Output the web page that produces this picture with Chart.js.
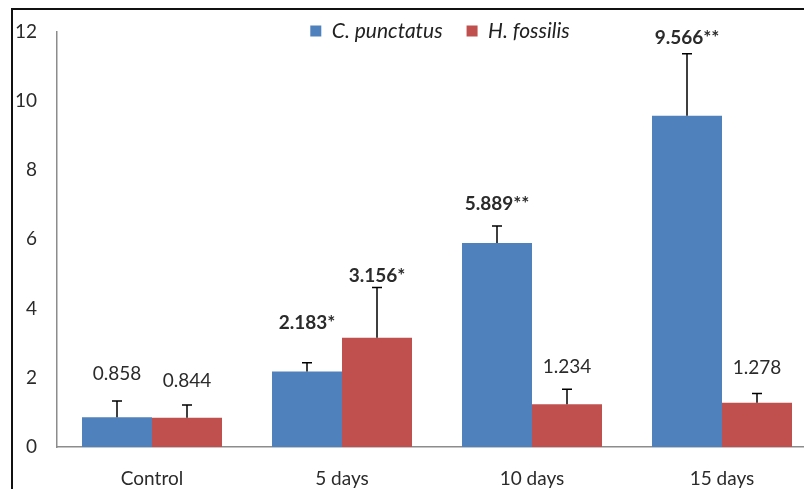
<!DOCTYPE html>
<html>
<head>
<meta charset="utf-8">
<script src="https://cdn.jsdelivr.net/npm/chart.js@4/dist/chart.umd.min.js"></script>
<style>
  html, body { margin: 0; padding: 0; background: #fff; overflow: hidden; width: 804px; height: 489px; }
  #frame { position: absolute; left: 11px; top: 8px; width: 900px; height: 600px; border-left: 2px solid #111; border-top: 2px solid #111; }
  #wrap { position: absolute; left: 0; top: 0; width: 830px; height: 489px; }
</style>
</head>
<body>
<div id="frame"></div>
<div id="wrap"><canvas id="c" width="830" height="489"></canvas></div>
<script>
// ---- data ----
const categories = ["Control", "5 days", "10 days", "15 days"];
const seriesNames = ["C. punctatus", "H. fossilis"];
const cPunctatus = [0.858, 2.183, 5.889, 9.566];
const hFossilis = [0.844, 3.156, 1.234, 1.278];
const cPunctatusErr = [0.47, 0.25, 0.49, 1.79];
const hFossilisErr = [0.37, 1.45, 0.43, 0.27];
const cPunctatusLabels = ["0.858", "2.183*", "5.889**", "9.566**"];
const hFossilisLabels = ["0.844", "3.156*", "1.234", "1.278"];
const yTicks = [0, 2, 4, 6, 8, 10, 12];

// ---- presentation ----
const FONT = "Lato, 'Open Sans', sans-serif";
const LEGEND_SIZE = 21;
const LEGEND_PAD = 24;
const labelGaps = [[27, 40, 22, 16], [24, 12, 22, 26]]; // px above error cap
const errors = [cPunctatusErr, hFossilisErr];
const labels = [cPunctatusLabels, hFossilisLabels];

const errorBarPlugin = {
  id: 'errorBars',
  afterLayout(chart) {
    const lg = chart.legend;
    if (lg) {
      lg.top = 31 - LEGEND_PAD - LEGEND_SIZE / 2;
      lg.height = 60;
      lg.bottom = lg.top + 60;
      lg.left = chart.chartArea.left + 3;
      lg.right = chart.chartArea.right + 3;
      lg.width = lg.right - lg.left;
    }
  },
  afterDatasetsDraw(chart) {
    const ctx = chart.ctx;
    const yScale = chart.scales.y;
    chart.data.datasets.forEach((ds, di) => {
      const meta = chart.getDatasetMeta(di);
      meta.data.forEach((bar, i) => {
        const v = ds.data[i];
        const yTop = yScale.getPixelForValue(v + errors[di][i]);
        ctx.save();
        ctx.strokeStyle = '#000';
        ctx.lineWidth = 1.5;
        ctx.beginPath();
        ctx.moveTo(bar.x, bar.y);
        ctx.lineTo(bar.x, yTop);
        ctx.moveTo(bar.x - 5, yTop);
        ctx.lineTo(bar.x + 5, yTop);
        ctx.stroke();
        const txt = labels[di][i];
        const bold = txt.indexOf('*') >= 0;
        ctx.font = (bold ? 'bold ' : '') + '19px ' + FONT;
        ctx.fillStyle = '#2b2b2b';
        ctx.textAlign = 'center';
        ctx.textBaseline = 'middle';
        ctx.fillText(txt, bar.x, yTop - labelGaps[di][i]);
        ctx.restore();
      });
    });
  }
};

new Chart(document.getElementById('c'), {
  type: 'bar',
  data: {
    labels: categories,
    datasets: [
      { label: seriesNames[0], data: cPunctatus, backgroundColor: '#4F81BD', borderWidth: 0 },
      { label: seriesNames[1], data: hFossilis, backgroundColor: '#C0504D', borderWidth: 0 }
    ]
  },
  options: {
    responsive: false,
    animation: false,
    devicePixelRatio: 1,
    categoryPercentage: 140 / 190,
    barPercentage: 1.0,
    layout: { padding: { top: 21, left: 0, right: 13, bottom: 0 } },
    plugins: {
      legend: {
        position: 'top',
        align: 'center',
        fullSize: false,
        maxHeight: 1,
        labels: {
          boxWidth: 11, boxHeight: 11, padding: LEGEND_PAD, color: '#222',
          font: { family: FONT, size: LEGEND_SIZE, style: 'italic' }
        }
      },
      tooltip: { enabled: false }
    },
    scales: {
      x: {
        grid: { display: false, drawTicks: false },
        border: { display: true, color: '#8c8c8c', width: 1.5 },
        ticks: { padding: 20, color: '#2b2b2b', font: { family: FONT, size: 19 } },
        afterFit(s) { s.height = 42; }
      },
      y: {
        min: 0, max: 12,
        afterBuildTicks(s) { s.ticks = yTicks.map(v => ({ value: v })); },
        grid: { display: false, drawTicks: false },
        border: { display: true, color: '#8c8c8c', width: 1.5 },
        ticks: { padding: 20, color: '#2b2b2b', font: { family: FONT, size: 19 } },
        afterFit(s) { s.width = 57; }
      }
    }
  },
  plugins: [errorBarPlugin]
});
</script>
</body>
</html>
